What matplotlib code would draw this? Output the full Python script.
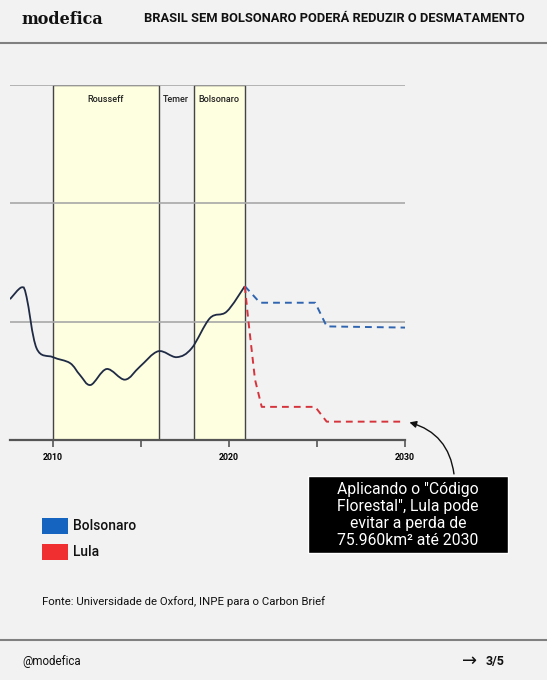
import numpy as np
import matplotlib.pyplot as plt
from matplotlib.path import Path
from matplotlib.patches import PathPatch, Rectangle

# historical series (unitless, gridlines every 1.0)
hist_years = [2007.56, 2008.22, 2008.5, 2009.07, 2010.0, 2010.97, 2011.53, 2012.14,
              2013.05, 2014.09, 2014.94, 2015.98, 2017.03, 2017.88, 2018.92, 2019.87, 2020.9]
hist_vals = [1.19, 1.29, 1.21, 0.775, 0.70, 0.65, 0.55, 0.465,
             0.60, 0.51, 0.62, 0.75, 0.70, 0.775, 1.03, 1.085, 1.30]

# projections
bolso_years = [2020.9, 2021.76, 2024.9, 2025.55, 2030.0]
bolso_vals = [1.30, 1.16, 1.16, 0.96, 0.95]
lula_years = [2020.9, 2021.1, 2021.48, 2021.86, 2024.9, 2025.55, 2030.0]
lula_vals = [1.30, 1.01, 0.51, 0.28, 0.28, 0.155, 0.155]

# government periods
terms = ['Rousseff', 'Temer', 'Bolsonaro']
term_start = [2010, 2016, 2018]
term_end = [2016, 2018, 2020.9]
term_shaded = [True, False, True]

BG = '#f2f2f2'
plt.rcParams['font.family'] = ['Roboto', 'DejaVu Sans']

fig = plt.figure(figsize=(5.47, 6.8), dpi=100, facecolor=BG)

# header / footer
fig.text(22 / 547, 1 - 19 / 680, 'modefica', family='DejaVu Serif', weight='bold',
         fontsize=11.5, va='center', ha='left', color='#111')
fig.text(525 / 547, 1 - 19 / 680, 'BRASIL SEM BOLSONARO PODERÁ REDUZIR O DESMATAMENTO',
         weight='bold', fontsize=9.3, va='center', ha='right', color='#111')
fig.add_artist(plt.Line2D([0, 1], [1 - 43 / 680] * 2, color='#808080', lw=1.5))
fig.add_artist(plt.Line2D([0, 1], [1 - 640 / 680] * 2, color='#808080', lw=1.5))
fig.text(22 / 547, 1 - 661 / 680, '@modefica', fontsize=8.3, va='center', color='#111')
fig.text(505 / 547, 1 - 661 / 680, '3/5', weight='bold', fontsize=9, va='center',
         ha='right', color='#111')
fig.text(477 / 547, 1 - 661 / 680, '→', fontsize=13, va='center', ha='right', color='#111',
         family='DejaVu Sans')

# chart
x0, x1 = 10 / 547, 405 / 547
ax = fig.add_axes([x0, 1 - 440 / 680, x1 - x0, 355 / 680])
ax.set_facecolor(BG)
ax.set_xlim(2007.56, 2030)
ax.set_ylim(0, 3)

for name, s, e, shaded in zip(terms, term_start, term_end, term_shaded):
    if shaded:
        ax.add_patch(Rectangle((s, 0), e - s, 3, facecolor='#fefee0', edgecolor='#444',
                               lw=1.0, zorder=0.5))
    ax.text((s + e) / 2, 2.88, name, ha='center', va='center', fontsize=6.5,
            color='#222', weight='medium')

for gy in [1, 2, 3]:
    ax.axhline(gy, color='#a8a8a8', lw=1.2, zorder=1)

# smooth historical curve (Catmull-Rom drawn as bezier path)
pts = np.column_stack([hist_years, hist_vals])
verts = [pts[0]]
codes = [Path.MOVETO]
for i in range(len(pts) - 1):
    p0 = pts[max(i - 1, 0)]
    p1 = pts[i]
    p2 = pts[i + 1]
    p3 = pts[min(i + 2, len(pts) - 1)]
    verts += [p1 + (p2 - p0) / 6, p2 - (p3 - p1) / 6, p2]
    codes += [Path.CURVE4] * 3
ax.add_patch(PathPatch(Path(verts, codes), facecolor='none', edgecolor='#1f2a44',
                       lw=1.3, zorder=3))

ax.plot(bolso_years, bolso_vals, color='#2e64b0', lw=1.4, dashes=(3.5, 2.6), zorder=3)
ax.plot(lula_years, lula_vals, color='#d6343c', lw=1.4, dashes=(3.5, 2.6), zorder=3)

for sp in ['top', 'right', 'left']:
    ax.spines[sp].set_visible(False)
ax.spines['bottom'].set_color('#555')
ax.spines['bottom'].set_linewidth(1.6)
ax.set_yticks([])
ax.set_xticks([2010, 2015, 2020, 2025, 2030])
ax.set_xticklabels(['2010', '', '2020', '', '2030'])
ax.tick_params(axis='x', length=5, width=1.2, color='#555', labelsize=6.3, pad=4)
for lab in ax.get_xticklabels():
    lab.set_fontweight('bold')

# annotation box + arrow
ax.annotate('', xy=(2030.1, 0.155), xytext=(2032.8, -0.31),
            arrowprops=dict(arrowstyle='-|>', color='#111', lw=1.0,
                            connectionstyle='arc3,rad=0.35', mutation_scale=10),
            annotation_clip=False)
fig.add_artist(Rectangle((308 / 547, 1 - 553 / 680), 200 / 547, 77 / 680,
                         facecolor='black', edgecolor='white', lw=1))
fig.text(408 / 547, 1 - 515 / 680,
         'Aplicando o "Código\nFlorestal", Lula pode\nevitar a perda de\n75.960km² até 2030',
         ha='center', va='center', fontsize=11.3, color='white', linespacing=1.17)

# legend
for yy, col, lab in [(526, '#1565c0', 'Bolsonaro'), (552, '#f03030', 'Lula')]:
    fig.add_artist(Rectangle((42 / 547, 1 - (yy + 8) / 680), 26 / 547, 16 / 680,
                             facecolor=col, edgecolor='none'))
    fig.text(73 / 547, 1 - yy / 680, lab, fontsize=10, va='center', color='#111',
             weight='medium')

fig.text(42 / 547, 1 - 602 / 680, 'Fonte: Universidade de Oxford, INPE para o Carbon Brief',
         fontsize=8.2, va='center', color='#111')

fig.savefig('out.png', dpi=100, facecolor=BG)
